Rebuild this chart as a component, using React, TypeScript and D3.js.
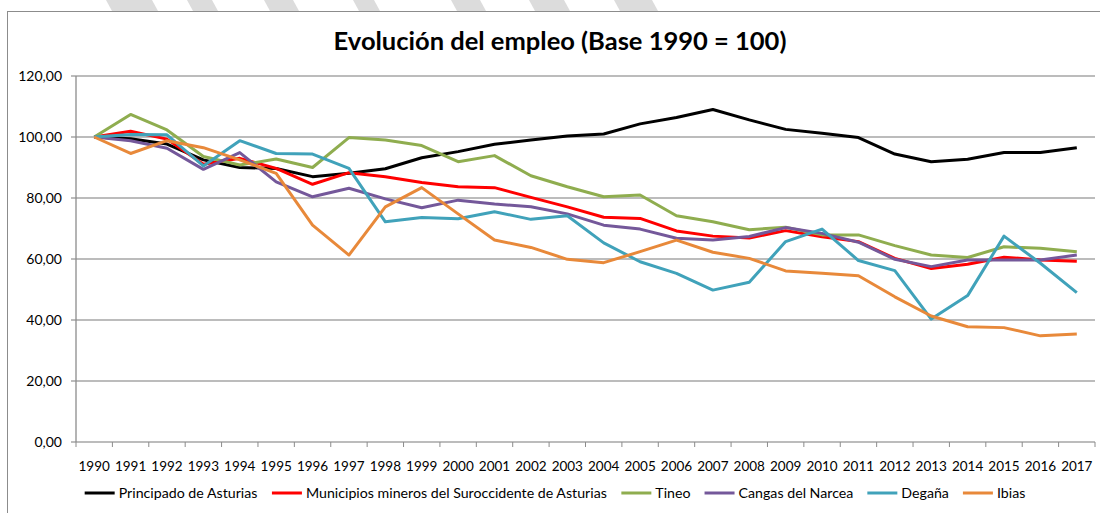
import * as d3 from 'd3';

// categories
const years = [
  '1990', '1991', '1992', '1993', '1994', '1995', '1996', '1997', '1998', '1999',
  '2000', '2001', '2002', '2003', '2004', '2005', '2006', '2007', '2008', '2009',
  '2010', '2011', '2012', '2013', '2014', '2015', '2016', '2017',
];

// series values
const principado = [
  100, 99.4, 97.7, 92.5, 90, 89.7, 87, 88.1, 89.6, 93.2,
  95.2, 97.6, 99, 100.3, 101, 104.3, 106.4, 109, 105.6, 102.5,
  101.2, 99.8, 94.4, 91.9, 92.7, 94.9, 94.9, 96.5,
];
const municipios = [
  100, 101.9, 99.3, 91.1, 93, 89.7, 84.5, 88.3, 87, 85.1,
  83.7, 83.4, 80.2, 77.1, 73.7, 73.3, 69.2, 67.5, 66.9, 69.3,
  67.3, 65.7, 60.2, 56.9, 58.3, 60.6, 59.7, 59.3,
];
const tineo = [
  100, 107.4, 102.3, 93.6, 90.8, 92.8, 90, 99.8, 99, 97.2,
  91.9, 93.9, 87.3, 83.7, 80.4, 81, 74.2, 72.2, 69.6, 70.4,
  67.9, 67.9, 64.4, 61.3, 60.5, 64, 63.5, 62.4,
];
const cangas = [
  100, 98.8, 96.3, 89.4, 94.9, 85.3, 80.4, 83.2, 79.7, 76.8,
  79.3, 78, 77.1, 74.8, 71.1, 69.8, 66.8, 66.2, 67.4, 70.3,
  68.4, 65.5, 59.9, 57.5, 59.7, 59.7, 59.7, 61.3,
];
const degana = [
  100, 100.8, 100.7, 90.5, 98.8, 94.6, 94.4, 89.7, 72.2, 73.6,
  73.2, 75.5, 73, 74.2, 65.3, 59.1, 55.3, 49.8, 52.4, 65.7,
  69.8, 59.5, 56.2, 40.3, 48, 67.5, 58.6, 49,
];
const ibias = [
  100, 94.6, 98.8, 96.5, 92.5, 88.1, 71.1, 61.3, 77.1, 83.4,
  74.8, 66.2, 63.8, 59.9, 58.8, 62.4, 66.2, 62.2, 60.2, 56.1,
  55.3, 54.5, 47.6, 41.3, 37.8, 37.5, 34.8, 35.4,
];

const seriesNames = [
  'Principado de Asturias',
  'Municipios mineros del Suroccidente de Asturias',
  'Tineo',
  'Cangas del Narcea',
  'Degaña',
  'Ibias',
];
const seriesValues = [principado, municipios, tineo, cangas, degana, ibias];
const seriesColors = ['#000000', '#ff0000', '#8fad4f', '#74589a', '#40a2ba', '#e8893a'];

const yTicks = [0, 20, 40, 60, 80, 100, 120];

const W = 1100;
const H = 513;
const FONT = 'Lato, "Open Sans", sans-serif';
const margin = { left: 76, right: 5, top: 76, bottom: 71 };

function textWidth(txt: string, size: number) {
  const c = document.createElement('canvas').getContext('2d');
  if (!c) return txt.length * size * 0.5;
  c.font = `${size}px Lato`;
  return c.measureText(txt).width;
}

export default function App() {
  const x = d3
    .scaleBand<string>()
    .domain(years)
    .range([margin.left, W - margin.right])
    .padding(0);
  const y = d3
    .scaleLinear()
    .domain([0, 120])
    .range([H - margin.bottom, margin.top]);

  const line = d3
    .line<number>()
    .x((_, i) => (x(years[i]) as number) + x.bandwidth() / 2)
    .y((d) => y(d));

  // legend layout
  const legSize = 14.2;
  const sample = 30;
  const gapText = 4;
  const gapItem = 14;
  const widths = seriesNames.map((n) => sample + gapText + textWidth(n, legSize));
  const total = d3.sum(widths) + gapItem * (widths.length - 1);
  let cursor = 555 - total / 2;
  const legendX = widths.map((w) => {
    const pos = cursor;
    cursor += w + gapItem;
    return pos;
  });

  // faint watermark bands above the frame
  const bands = [
    [106, 152], [187, 212], [264, 293], [353, 374], [451, 480], [529, 564], [614, 652],
  ];

  return (
    <svg
      width={W}
      height={H}
      style={{ position: 'absolute', left: 0, top: 0, background: '#fff' }}
      fontFamily={FONT}
    >
      {bands.map(([a, b], i) => (
        <polygon
          key={i}
          points={`${a},0 ${b},0 ${b + 6},11 ${a + 6},11`}
          fill="#dcdcdc"
        />
      ))}
      <rect x={7.5} y={11.5} width={W + 10} height={H + 10} fill="#fff" stroke="#8c8c8c" />

      <text
        x={560}
        y={50}
        textAnchor="middle"
        fontSize={25.5}
        fontWeight="bold"
        fill="#000"
      >
        Evolución del empleo (Base 1990 = 100)
      </text>

      {/* grid + y axis */}
      {yTicks.map((t) => (
        <g key={t}>
          <line
            x1={margin.left - 5}
            x2={W - margin.right}
            y1={y(t)}
            y2={y(t)}
            stroke="#a6a6a6"
            strokeWidth={1.3}
          />
          <text x={62} y={y(t) + 5} textAnchor="end" fontSize={14} fill="#000">
            {t.toFixed(2).replace('.', ',')}
          </text>
        </g>
      ))}
      <line
        x1={margin.left}
        x2={margin.left}
        y1={y(120)}
        y2={y(0)}
        stroke="#8c8c8c"
        strokeWidth={1.3}
      />

      {/* x axis ticks + labels */}
      {years.map((yr) => (
        <g key={yr}>
          <line
            x1={x(yr) as number}
            x2={x(yr) as number}
            y1={y(0)}
            y2={y(0) + 5}
            stroke="#8c8c8c"
          />
          <text
            x={(x(yr) as number) + x.bandwidth() / 2}
            y={471}
            textAnchor="middle"
            fontSize={13.5}
            fill="#000"
          >
            {yr}
          </text>
        </g>
      ))}
      <line
        x1={W - margin.right}
        x2={W - margin.right}
        y1={y(0)}
        y2={y(0) + 5}
        stroke="#8c8c8c"
      />

      {/* series */}
      {seriesValues.map((vals, i) => (
        <path
          key={seriesNames[i]}
          d={line(vals) || ''}
          fill="none"
          stroke={seriesColors[i]}
          strokeWidth={3}
          strokeLinejoin="round"
        />
      ))}

      {/* legend */}
      {seriesNames.map((n, i) => (
        <g key={n} transform={`translate(${legendX[i]},493)`}>
          <line x1={0} x2={sample} y1={0} y2={0} stroke={seriesColors[i]} strokeWidth={3} />
          <text x={sample + gapText} y={5} fontSize={legSize} fill="#000">
            {n}
          </text>
        </g>
      ))}
    </svg>
  );
}
